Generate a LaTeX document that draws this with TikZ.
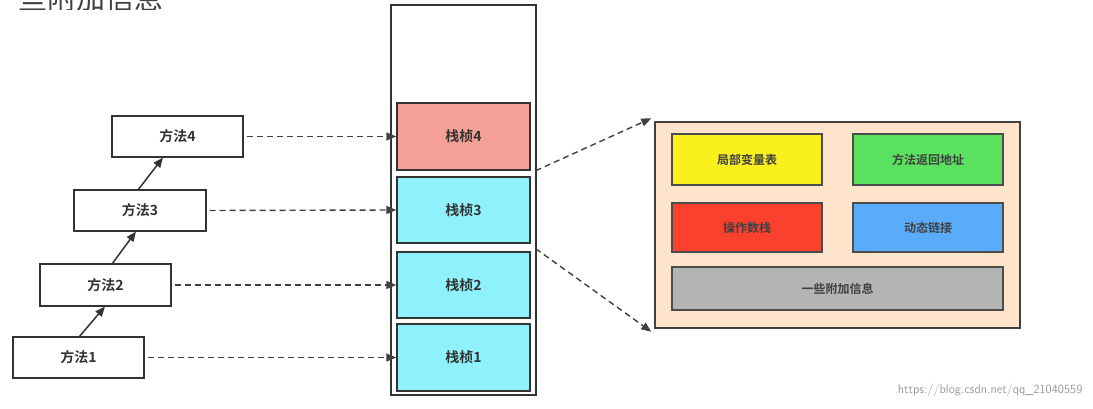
\documentclass[tikz,border=0pt]{standalone}
\usepackage{fontspec}
\newfontfamily\cjk{Noto Sans CJK SC}[BoldFont={Noto Sans CJK SC Bold}]
\usetikzlibrary{arrows.meta}
\begin{document}
\begin{tikzpicture}[x=1pt,y=-1pt,
  box/.style={draw=black!80,line width=1.4pt,inner sep=0pt,font=\cjk\bfseries\fontsize{14}{14}\selectfont,text=black!80},
  small/.style={draw=black!70,line width=1.4pt,inner sep=0pt,font=\cjk\bfseries\fontsize{12}{12}\selectfont,text=black!75},
  dash arrow/.style={line width=1.4pt,draw=black!75,-{Triangle[length=10pt,width=8pt]},dash pattern=on 6pt off 4pt},
  up arrow/.style={line width=1.5pt,draw=black!80,-{Triangle[length=10pt,width=8pt]}}]
\useasboundingbox (0,0) rectangle (1093,409);
\begin{scope}
\clip (0,0) rectangle (200,10);
\node[anchor=west,font=\cjk\fontsize{29}{29}\selectfont,text=black!75] (title) at (-14,-2) {一些附加信息};
\end{scope}
% methods
\node[box,minimum width=131pt,minimum height=41pt] (m4) at (177.5,136.5) {方法4};
\node[box,minimum width=132pt,minimum height=41pt] (m3) at (140,210.5) {方法3};
\node[box,minimum width=131pt,minimum height=42pt] (m2) at (105.5,285) {方法2};
\node[box,minimum width=131pt,minimum height=41pt] (m1) at (78.5,357.5) {方法1};
% stack
\node[draw=black!80,line width=1.4pt,minimum width=145pt,minimum height=390pt,inner sep=0pt] (stack) at (463.5,200) {};
\node[box,fill={rgb,255:red,245;green,160;blue,150},minimum width=133pt,minimum height=67pt] (f4) at (463.5,136.5) {栈桢4};
\node[box,fill={rgb,255:red,142;green,241;blue,251},minimum width=133pt,minimum height=66pt] (f3) at (463.5,210) {栈桢3};
\node[box,fill={rgb,255:red,142;green,241;blue,251},minimum width=133pt,minimum height=66pt] (f2) at (463.5,285) {栈桢2};
\node[box,fill={rgb,255:red,142;green,241;blue,251},minimum width=133pt,minimum height=67pt] (f1) at (463.5,357.5) {栈桢1};
% detail
\node[draw=black!75,line width=1.4pt,fill={rgb,255:red,255;green,228;blue,204},minimum width=365pt,minimum height=206pt,inner sep=0pt] (d) at (837.5,225) {};
\node[small,fill={rgb,255:red,250;green,240;blue,30},minimum width=150pt,minimum height=51pt] (lv) at (747,159.5) {局部变量表};
\node[small,fill={rgb,255:red,90;green,225;blue,95},minimum width=150pt,minimum height=51pt] (ra) at (928,159.5) {方法返回地址};
\node[small,fill={rgb,255:red,250;green,65;blue,45},minimum width=150pt,minimum height=49pt] (os) at (747,227.5) {操作数栈};
\node[small,fill={rgb,255:red,90;green,172;blue,250},minimum width=150pt,minimum height=49pt] (dl) at (928,227.5) {动态链接};
\node[small,fill={rgb,255:red,180;green,180;blue,180},minimum width=331pt,minimum height=43pt] (ex) at (837.5,288.5) {一些附加信息};
% arrows
\draw[up arrow] (79,337) -- (105,306.5);
\draw[up arrow] (112,264) -- (136,231.5);
\draw[up arrow] (138,190) -- (163,157.5);
\draw[dash arrow] (m4.east) ++(3,0) -- (f4.west);
\draw[dash arrow] (m3.east) ++(3,0) -- (f3.west);
\draw[dash arrow] (m2.east) ++(3,0) -- (f2.west);
\draw[dash arrow] (m1.east) ++(3,0) -- (f1.west);
\draw[dash arrow] (f4.south east) ++(5,0) -- ([xshift=-3pt,yshift=3pt]d.north west);
\draw[dash arrow] (f3.south east) ++(5,5) -- ([xshift=-3pt,yshift=-3pt]d.south west);
\node[anchor=east,text=black!40,font=\fontsize{12.5}{12.5}\selectfont\sffamily] (wm) at (1086,390) {https://blog.csdn.net/qq\_21040559};
\end{tikzpicture}
\end{document}
